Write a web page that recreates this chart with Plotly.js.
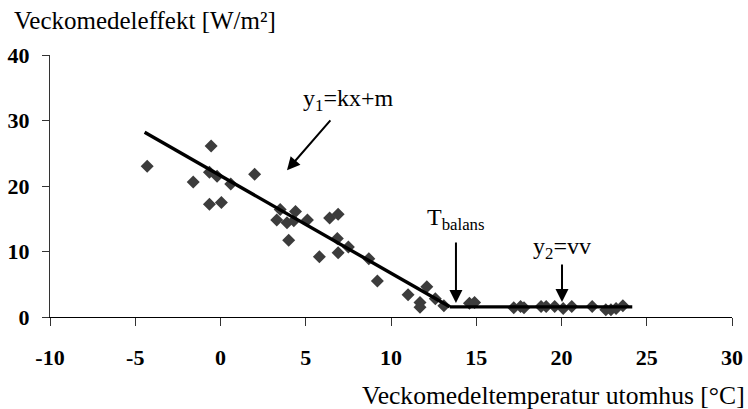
<!DOCTYPE html>
<html>
<head>
<meta charset="utf-8">
<script src="https://cdn.plot.ly/plotly-3.0.1.min.js"></script>
<style>html,body{margin:0;padding:0;background:#fff;}#chart{width:748px;height:409px;}</style>
</head>
<body>
<div id="chart"></div>
<script>
// Observed weekly values
const tempObs = [-4.3, -1.6, -0.65, -0.55, -0.65, -0.2, 0.05, 0.6, 2.0, 3.3, 3.5, 3.9, 4.3, 4.4, 5.1, 4.0, 5.8, 6.4, 6.9, 6.85, 6.9, 7.5, 8.7, 9.2, 11.0, 12.1, 11.7, 11.7, 12.6, 13.1, 14.6, 14.9, 17.2, 17.6, 17.8, 18.8, 19.1, 19.6, 20.1, 20.6, 21.8, 22.6, 22.9, 23.2, 23.6];
const effObs  = [23.0, 20.6, 17.2, 26.1, 22.1, 21.5, 17.5, 20.3, 21.8, 14.8, 16.4, 14.4, 14.7, 16.1, 14.8, 11.7, 9.2, 15.1, 15.7, 12.0, 9.8, 10.7, 8.9, 5.5, 3.4, 4.6, 2.2, 1.5, 2.8, 1.7, 2.1, 2.2, 1.4, 1.6, 1.4, 1.6, 1.6, 1.6, 1.3, 1.6, 1.6, 1.1, 1.1, 1.3, 1.7];
// Fitted lines
const line1X = [-4.45, 13.45];
const line1Y = [28.2, 1.55];
const line2X = [13.45, 24.15];
const line2Y = [1.55, 1.55];
const xTicks = [-10, -5, 0, 5, 10, 15, 20, 25, 30];
const xTickText = ['-10', '-5', '0', '5', '10', '15', '20', '25', '30'];
const yTicks = [0, 10, 20, 30, 40];
const yTickText = ['0', '10', '20', '30', '40'];

const fam = 'Liberation Serif';

const traces = [
  {x: tempObs, y: effObs, type: 'scatter', mode: 'markers',
   marker: {symbol: 'diamond', size: 10, color: '#3c3c3c'}, hoverinfo: 'skip'},
  {x: line1X, y: line1Y, type: 'scatter', mode: 'lines', line: {color: '#000', width: 3.4}},
  {x: line2X, y: line2Y, type: 'scatter', mode: 'lines', line: {color: '#000', width: 3.4}}
];

// labelled arrow: text centred at (ax, ay), arrow tip at (x, y)
const labelArrow = (text, x, y, ax, ay, standoff) => ({text, x, y, ax, ay,
  xref: 'x', yref: 'y', axref: 'x', ayref: 'y', showarrow: true, arrowhead: 2, arrowsize: 1.3,
  arrowwidth: 2, arrowcolor: '#000', startstandoff: standoff, font: {family: fam, size: 24, color: '#000'}});

const layout = {
  width: 748, height: 409,
  margin: {l: 50, r: 16, t: 55, b: 92},
  paper_bgcolor: '#fff', plot_bgcolor: '#fff',
  showlegend: false,
  font: {family: fam, size: 20, color: '#000'},
  xaxis: {range: [-10, 30], tickvals: xTicks, ticktext: xTickText, ticks: 'outside', ticklen: 8, tickcolor: '#333',
          showline: true, linecolor: '#000', linewidth: 1, showgrid: false, zeroline: false,
          tickfont: {family: fam, size: 22, color: '#000', weight: 'bold'}, ticklabelstandoff: 13},
  yaxis: {range: [0, 40], tickvals: yTicks, ticktext: yTickText, ticks: 'outside', ticklen: 7, tickcolor: '#333',
          showline: true, linecolor: '#333', linewidth: 1, showgrid: false, zeroline: false,
          tickfont: {family: fam, size: 22, color: '#000', weight: 'bold'}, ticklabelstandoff: 8},
  annotations: [
    {text: 'Veckomedeleffekt [W/m²]', xref: 'paper', yref: 'paper', x: -0.055, y: 1.13,
     xanchor: 'left', yanchor: 'middle', showarrow: false, font: {family: fam, size: 25}},
    {text: 'Veckomedeltemperatur utomhus [°C]', xref: 'paper', yref: 'paper', x: 1.022, y: -0.298,
     xanchor: 'right', yanchor: 'middle', showarrow: false, font: {family: fam, size: 25.6}},
    labelArrow('y<sub>1</sub>=kx+m', 3.9, 22.4, 7.48, 33.1, 5),
    labelArrow('T<sub>balans</sub>', 13.81, 2.14, 13.81, 14.96, 7),
    labelArrow('y<sub>2</sub>=vv', 20.03, 2.29, 20.03, 10.53, 0)
  ]
};

Plotly.newPlot('chart', traces, layout, {displayModeBar: false});
</script>
</body>
</html>
